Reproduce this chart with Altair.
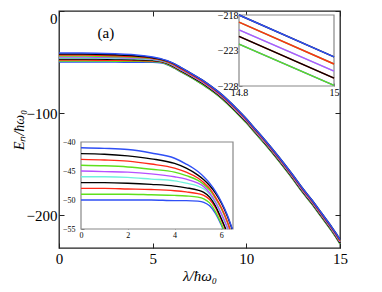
import altair as alt
import pandas as pd

# ---------------- data ----------------
levels = ["n0", "n1", "n2", "n3", "n4", "n5", "n6", "n7", "n8", "n9"]
level_colors = ["#2f4ff5", "#5fe01c", "#ff2a18", "#000000", "#6ff2dc",
                "#b650ff", "#5fe01c", "#ff2a18", "#000000", "#2f4ff5"]
pair_of_level = [0, 0, 1, 1, 2, 2, 3, 3, 4, 4]

lam_low = [0, 1, 2, 3, 4, 4.5, 5, 5.25, 5.5, 5.75, 6, 6.25, 6.5]
E_n0 = [-50.0, -50.0, -50.0, -50.0, -50.1, -50.1, -50.2, -50.4, -51.0, -52.3, -54.3, -56.8, -59.5]
E_n1 = [-49.0, -49.0, -49.0, -49.1, -49.2, -49.3, -49.5, -49.8, -50.5, -52.0, -54.1, -56.6, -59.3]
E_n2 = [-48.0, -48.0, -48.1, -48.2, -48.4, -48.6, -48.9, -49.2, -49.9, -51.3, -53.4, -55.8, -58.5]
E_n3 = [-47.0, -47.0, -47.1, -47.3, -47.6, -47.9, -48.3, -48.7, -49.5, -51.0, -53.2, -55.6, -58.3]
E_n4 = [-46.0, -46.0, -46.1, -46.4, -46.7, -47.1, -47.6, -48.1, -49.0, -50.5, -52.5, -54.8, -57.5]
E_n5 = [-45.0, -45.1, -45.2, -45.5, -46.0, -46.4, -47.1, -47.7, -48.8, -50.3, -52.3, -54.6, -57.3]
E_n6 = [-44.0, -44.1, -44.3, -44.7, -45.2, -45.8, -46.6, -47.3, -48.3, -49.7, -51.5, -53.8, -56.5]
E_n7 = [-43.0, -43.1, -43.3, -43.8, -44.5, -45.2, -46.2, -47.0, -48.0, -49.5, -51.3, -53.6, -56.3]
E_n8 = [-42.0, -42.1, -42.4, -42.9, -43.7, -44.5, -45.7, -46.5, -47.5, -48.8, -50.5, -52.7, -55.4]
E_n9 = [-41.0, -41.1, -41.3, -41.9, -42.8, -43.8, -45.1, -46.0, -47.1, -48.5, -50.3, -52.5, -55.2]
E_low = [E_n0, E_n1, E_n2, E_n3, E_n4, E_n5, E_n6, E_n7, E_n8, E_n9]

# lambda where each level leaves the lower inset (E = -55)
inset_exit_lam = [6.08, 6.09, 6.17, 6.19, 6.27, 6.29, 6.36, 6.37, 6.46, 6.47]
inset_exit_E = -55

tail_lam = [7, 7.5, 8, 8.5, 9, 9.5, 10, 10.5, 11, 11.5, 12, 12.5, 13, 13.5, 14, 14.5, 14.8, 15]
tail_pair0 = [-64.5, -70, -76, -83, -91, -100, -109.5, -120, -130.5, -141.5, -153, -165, -177.5, -189, -201.5, -214, -222.1, -227.9]
tail_pair1 = [-63.5, -69, -75, -82, -90, -99, -108.5, -119, -129.5, -140.5, -152, -164, -176.5, -188, -200.5, -213, -221.0, -226.9]
tail_pair2 = [-62.5, -68, -74, -81, -89, -98, -107.5, -118, -128.5, -139.5, -151, -163, -175.5, -187, -199.5, -212, -220.1, -225.9]
tail_pair3 = [-61.5, -67, -73, -80, -88, -97, -106.5, -117, -127.5, -138.5, -150, -162, -174.5, -186, -198.5, -211, -219.0, -224.9]
tail_pair4 = [-60.5, -66, -72, -79, -87, -96, -105.5, -116, -126.5, -137.5, -149, -161, -173.5, -185, -197.5, -210, -218.0, -223.9]
tails = [tail_pair0, tail_pair1, tail_pair2, tail_pair3, tail_pair4]

main_x_ticks = [0, 5, 10, 15]
main_y_ticks = [0, -100, -200]
main_x_domain = [0, 15]
main_y_domain = [-232, 0]

insetA_x_domain = [0, 6.5]
insetA_y_domain = [-55, -40]
insetA_x_ticks = [0, 2, 4, 6]
insetA_y_ticks = [-55, -50, -45, -40]

insetB_x_domain = [14.8, 15]
insetB_y_domain = [-228, -218]
insetB_x_ticks = [14.8, 15]
insetB_y_ticks = [-228, -223, -218]

label_text = ["(a)"]
label_lam = [2.5]
label_E = [-21.5]

# ---------------- layout constants ----------------
W, H = 281, 237
insA_x_range = [22, 174]
insA_y_range = [218, 131]
insB_x_range = [180, 275]
insB_y_range = [75, 4]
FONT = "Liberation Serif"

# ---------------- tables ----------------
main_rows, insA_rows, insB_rows = [], [], []
for i, lev in enumerate(levels):
    for lam, e in zip(lam_low, E_low[i]):
        main_rows.append({"level": lev, "lam": lam, "E": e})
        if e >= insetA_y_domain[0]:
            insA_rows.append({"level": lev, "lam": lam, "E": e})
    insA_rows.append({"level": lev, "lam": inset_exit_lam[i], "E": inset_exit_E})
    for lam, e in zip(tail_lam, tails[pair_of_level[i]]):
        main_rows.append({"level": lev, "lam": lam, "E": e})
        if lam >= insetB_x_domain[0]:
            insB_rows.append({"level": lev, "lam": lam, "E": e})

main_df = pd.DataFrame(main_rows)
insA_df = pd.DataFrame(insA_rows)
insB_df = pd.DataFrame(insB_rows)
label_df = pd.DataFrame({"t": label_text, "lam": label_lam, "E": label_E})

color = alt.Color("level:N", scale=alt.Scale(domain=levels, range=level_colors), legend=None)

# ---------------- main plot ----------------
main_x = alt.X("lam:Q", scale=alt.Scale(domain=main_x_domain, nice=False, zero=False),
               axis=alt.Axis(orient="bottom", values=main_x_ticks, format="~f", offset=-5,
                             tickSize=5, domain=False, labelPadding=3, labelFontSize=15,
                             labelFont=FONT, labelFlush=False,
                             title="λ/ħω₀", titleFont=FONT, titleFontSize=15,
                             titleFontStyle="italic", titleFontWeight="normal",
                             titlePadding=2, tickColor="#222"))
main_y = alt.Y("E:Q", scale=alt.Scale(domain=main_y_domain, nice=False, zero=False),
               axis=alt.Axis(orient="left", values=main_y_ticks, format="~f", offset=-5,
                             tickSize=5, domain=False, labelPadding=2, labelFontSize=15,
                             labelFont=FONT, labelFlush=True,
                             title="Eₙ/ħω₀", titleFont=FONT, titleFontSize=14,
                             titleFontStyle="italic", titleFontWeight="normal",
                             titlePadding=0, tickColor="#222"))
main_lines = alt.Chart(main_df).mark_line(strokeWidth=1.5, interpolate="monotone").encode(
    x=main_x, y=main_y, color=color)

label = alt.Chart(label_df).mark_text(font=FONT, fontSize=15, align="center",
                                      baseline="middle", color="black").encode(
    x=alt.X("lam:Q", scale=alt.Scale(domain=main_x_domain, nice=False, zero=False),
            axis=alt.Axis(orient="top", values=main_x_ticks, labels=False, offset=-5,
                          tickSize=5, domain=False, title=None, tickColor="#222")),
    y=alt.Y("E:Q", scale=alt.Scale(domain=main_y_domain, nice=False, zero=False),
            axis=alt.Axis(orient="right", values=main_y_ticks, labels=False, offset=-5,
                          tickSize=5, domain=False, title=None, tickColor="#222")),
    text="t:N")


def inset(df, xdom, ydom, xr, yr, xticks, yticks, fsize, xpad, ypad):
    xaxis = alt.Axis(orient="bottom", values=xticks, format="~f", offset=-(H - yr[0]) - 3,
                     tickSize=3, domain=False, labelFontSize=fsize, labelPadding=xpad,
                     labelFont=FONT, labelFlush=False,
                     title=None, tickColor="#777")
    yaxis = alt.Axis(orient="left", values=yticks, format="~f", offset=-(xr[0] + 3),
                     tickSize=3, domain=False, labelFontSize=fsize, labelPadding=ypad,
                     labelFont=FONT, labelFlush=False,
                     title=None, tickColor="#777")
    xs = alt.Scale(domain=xdom, range=xr, nice=False, zero=False)
    ys = alt.Scale(domain=ydom, range=yr, nice=False, zero=False)
    box_df = pd.DataFrame({"x0": [xdom[0]], "x1": [xdom[1]], "y0": [ydom[0]], "y1": [ydom[1]]})
    box = alt.Chart(box_df).mark_rect(fill="white", stroke="#888888", strokeWidth=1.2).encode(
        x=alt.X("x0:Q", scale=xs, axis=xaxis), x2="x1:Q",
        y=alt.Y("y0:Q", scale=ys, axis=yaxis), y2="y1:Q")
    lines = alt.Chart(df).mark_line(strokeWidth=1.4, interpolate="monotone").encode(
        x=alt.X("lam:Q", scale=xs, axis=xaxis),
        y=alt.Y("E:Q", scale=ys, axis=yaxis),
        color=color)
    return alt.layer(box, lines)


insetA = inset(insA_df, insetA_x_domain, insetA_y_domain, insA_x_range, insA_y_range,
               insetA_x_ticks, insetA_y_ticks, 8, 2, 6)
insetB = inset(insB_df, insetB_x_domain, insetB_y_domain, insB_x_range, insB_y_range,
               insetB_x_ticks, insetB_y_ticks, 10, 1, 1)

chart = alt.layer(main_lines, label, insetA, insetB).resolve_scale(
    x="independent", y="independent"
).properties(
    width=W, height=H,
    autosize=alt.AutoSizeParams(type="none"),
    padding={"left": 51, "top": 3, "right": 30, "bottom": 36},
).configure_view(
    stroke="#222222", strokeWidth=1.3
).configure_axis(
    grid=False, labelFont=FONT, titleFont=FONT, labelColor="black", titleColor="black"
)

chart.save("out.html", embed_options={"renderer": "svg", "actions": False})
